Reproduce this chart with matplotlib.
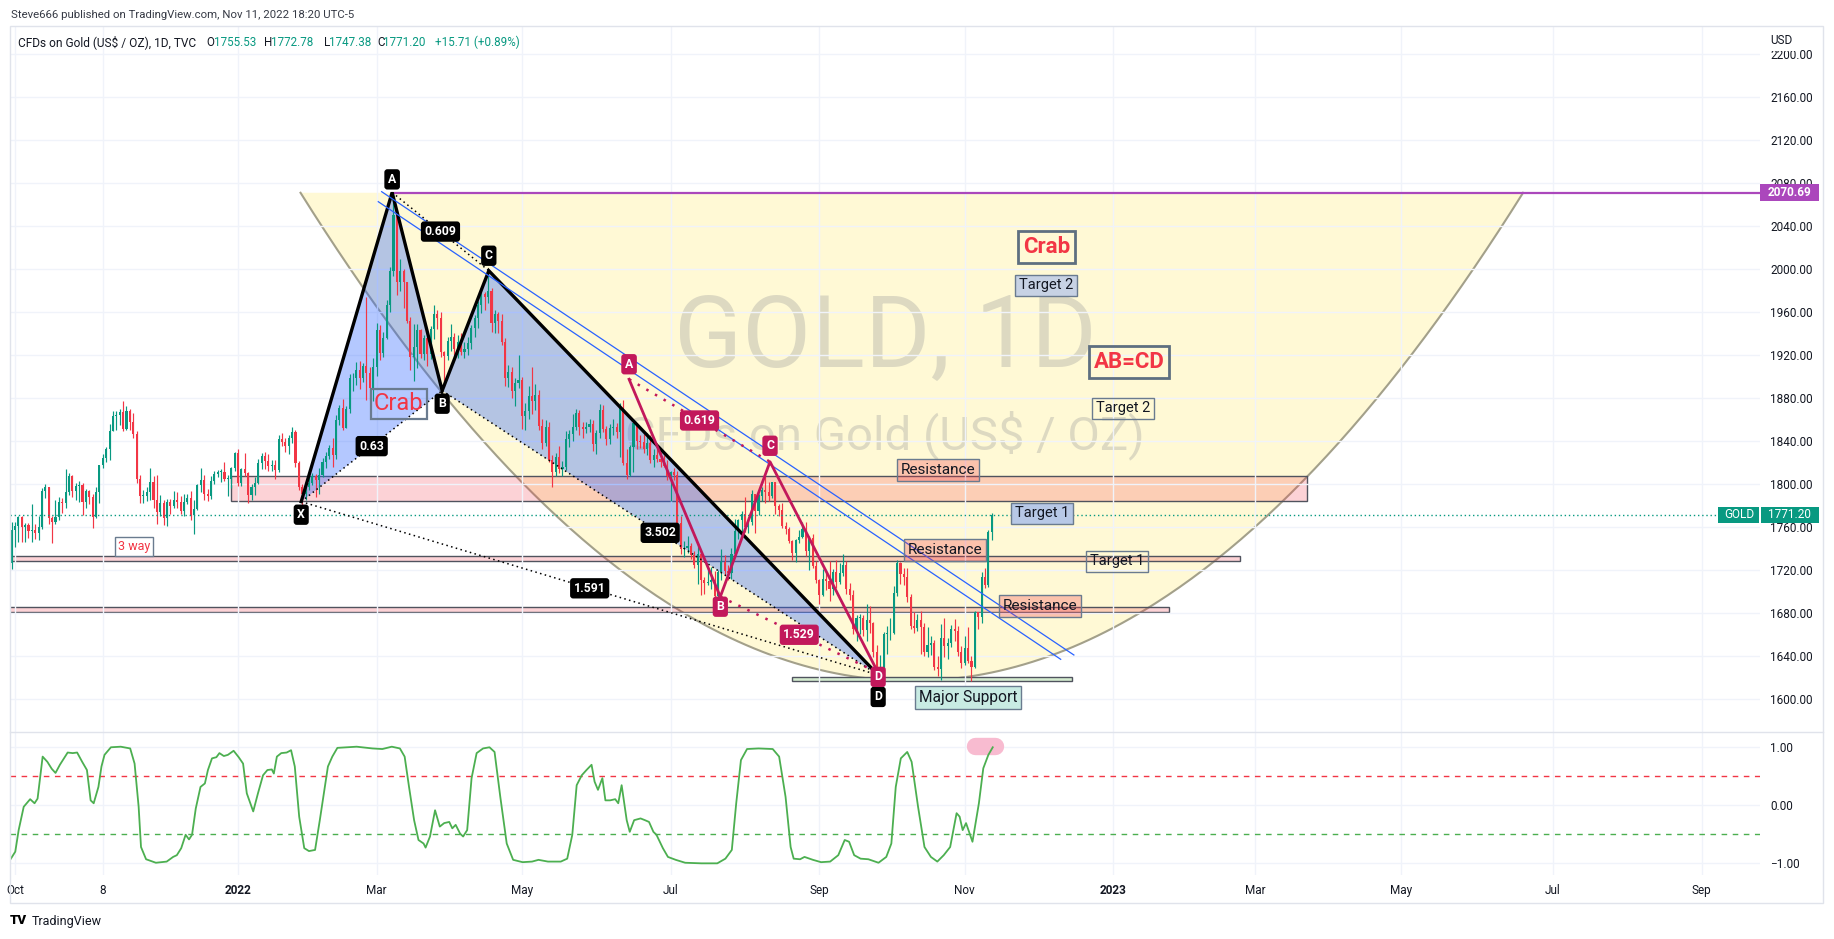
import numpy as np
import matplotlib
matplotlib.use('Agg')
import matplotlib.pyplot as plt
from matplotlib.patches import Rectangle, Polygon
from matplotlib.transforms import blended_transform_factory

plt.rcParams['font.family'] = ['Roboto', 'DejaVu Sans']

W, H, DPI = 1834, 939, 100

# ---- daily candles, TVC:GOLD, 2021-09-30 .. 2022-11-11 (bar 0 = 2022-01-03)
first_bar = -67
first_open = 1726
closes = [
    1757,
    # Oct 2021
    1761, 1769, 1760, 1762, 1756, 1757, 1754, 1760, 1793, 1797, 1768, 1765, 1769, 1783, 1782, 1792, 1807, 1793, 1798, 1799, 1783,
    # Nov 2021
    1793, 1788, 1769, 1792, 1818, 1824, 1832, 1849, 1863, 1864, 1867, 1851, 1868, 1858, 1846, 1805, 1789, 1789, 1792, 1802, 1785, 1774,
    # Dec 2021
    1782, 1768, 1783, 1779, 1785, 1783, 1775, 1783, 1787, 1771, 1777, 1799, 1804, 1791, 1789, 1803, 1809, 1811, 1811, 1805, 1805, 1815, 1829,
    # Jan 2022
    1801, 1814, 1810, 1790, 1797, 1801, 1819, 1826, 1821, 1817, 1818, 1813, 1842, 1839, 1835, 1843, 1848, 1819, 1797, 1791, 1797,
    # Feb
    1801, 1807, 1804, 1808, 1820, 1826, 1833, 1827, 1859, 1871, 1852, 1870, 1898, 1898, 1906, 1898, 1910, 1903, 1889, 1909,
    # Mar
    1943, 1922, 1936, 1966, 1998, 2050, 1988, 1998, 1988, 1951, 1918, 1927, 1943, 1921, 1936, 1921, 1944, 1958, 1954, 1923, 1919, 1933, 1937,
    # Apr
    1925, 1932, 1923, 1925, 1931, 1945, 1954, 1966, 1977, 1974, 1979, 1950, 1958, 1951, 1932, 1898, 1904, 1886, 1894, 1897,
    # May
    1863, 1868, 1882, 1877, 1883, 1854, 1838, 1853, 1822, 1811, 1825, 1814, 1816, 1842, 1846, 1853, 1866, 1853, 1851, 1853, 1856, 1837,
    # Jun
    1847, 1869, 1851, 1842, 1852, 1853, 1848, 1871, 1819, 1808, 1834, 1857, 1840, 1839, 1832, 1838, 1822, 1827, 1823, 1820, 1817, 1807,
    # Jul
    1811, 1808, 1764, 1739, 1740, 1742, 1734, 1725, 1735, 1711, 1708, 1709, 1711, 1696, 1718, 1727, 1719, 1717, 1735, 1756, 1766,
    # Aug
    1772, 1760, 1765, 1791, 1775, 1789, 1794, 1792, 1789, 1802, 1779, 1776, 1761, 1758, 1747, 1736, 1748, 1751, 1758, 1738, 1750, 1724, 1711,
    # Sep
    1697, 1712, 1710, 1702, 1718, 1709, 1717, 1725, 1702, 1697, 1665, 1675, 1675, 1664, 1673, 1671, 1644, 1622, 1629, 1660, 1661, 1661,
    # Oct
    1699, 1726, 1716, 1713, 1695, 1668, 1666, 1673, 1667, 1644, 1650, 1652, 1630, 1628, 1657, 1649, 1652, 1665, 1663, 1644, 1633,
    # Nov
    1647, 1635, 1630, 1681, 1676, 1713, 1706, 1755, 1771.2,
]
highs = [
    1765,
    1765, 1770, 1770, 1764, 1764, 1781, 1763, 1770, 1796, 1800, 1797, 1770, 1785, 1788, 1787, 1814, 1810, 1808, 1801, 1803, 1801,
    1795, 1794, 1791, 1797, 1818, 1828, 1834, 1856, 1868, 1868, 1870, 1877, 1872, 1870, 1866, 1849, 1808, 1794, 1797, 1815, 1807, 1808,
    1790, 1785, 1786, 1786, 1793, 1792, 1789, 1791, 1791, 1793, 1785, 1800, 1815, 1808, 1795, 1807, 1812, 1813, 1814, 1820, 1808, 1816, 1830,
    1832, 1815, 1829, 1811, 1800, 1806, 1823, 1829, 1830, 1828, 1822, 1822, 1845, 1847, 1843, 1845, 1853, 1850, 1821, 1800, 1801,
    1807, 1810, 1809, 1815, 1824, 1830, 1836, 1843, 1864, 1873, 1879, 1872, 1902, 1903, 1913, 1914, 1912, 1974, 1909, 1917,
    1950, 1948, 1941, 1971, 2002, 2070, 2055, 2009, 2000, 1988, 1955, 1949, 1949, 1944, 1938, 1940, 1947, 1966, 1962, 1960, 1924, 1937, 1949,
    1940, 1938, 1940, 1932, 1937, 1948, 1957, 1970, 1981, 1978, 1998, 1982, 1962, 1960, 1958, 1936, 1911, 1909, 1898, 1920,
    1899, 1875, 1891, 1909, 1893, 1887, 1860, 1859, 1858, 1827, 1829, 1835, 1821, 1849, 1850, 1865, 1870, 1869, 1858, 1858, 1860, 1859,
    1850, 1874, 1873, 1854, 1856, 1860, 1857, 1875, 1878, 1832, 1836, 1857, 1857, 1845, 1846, 1847, 1845, 1832, 1835, 1830, 1827, 1822,
    1812, 1815, 1812, 1770, 1747, 1752, 1745, 1738, 1745, 1736, 1713, 1722, 1723, 1719, 1720, 1739, 1734, 1725, 1740, 1767, 1767,
    1775, 1788, 1769, 1794, 1791, 1791, 1797, 1807, 1802, 1802, 1800, 1781, 1782, 1765, 1760, 1748, 1749, 1757, 1765, 1765, 1752, 1753, 1728,
    1712, 1721, 1717, 1728, 1721, 1729, 1726, 1735, 1728, 1708, 1701, 1678, 1679, 1678, 1688, 1686, 1672, 1650, 1641, 1662, 1668, 1675,
    1705, 1729, 1727, 1722, 1722, 1698, 1681, 1679, 1682, 1671, 1667, 1659, 1655, 1640, 1670, 1675, 1657, 1669, 1674, 1668, 1649,
    1659, 1667, 1640, 1682, 1680, 1718, 1722, 1757, 1772.8,
]
lows = [
    1721,
    1741, 1746, 1746, 1746, 1750, 1746, 1749, 1748, 1758, 1787, 1763, 1745, 1763, 1766, 1773, 1778, 1790, 1788, 1785, 1783, 1771,
    1778, 1781, 1759, 1768, 1782, 1815, 1820, 1822, 1849, 1850, 1855, 1849, 1850, 1850, 1843, 1801, 1782, 1782, 1784, 1785, 1778, 1763,
    1770, 1762, 1761, 1772, 1778, 1778, 1772, 1770, 1781, 1766, 1753, 1776, 1792, 1785, 1784, 1786, 1800, 1806, 1802, 1803, 1789, 1796, 1812,
    1798, 1798, 1807, 1782, 1785, 1790, 1800, 1814, 1814, 1812, 1812, 1805, 1811, 1835, 1830, 1828, 1838, 1816, 1794, 1780, 1785,
    1794, 1799, 1788, 1791, 1806, 1815, 1823, 1816, 1823, 1855, 1850, 1852, 1866, 1886, 1892, 1888, 1895, 1878, 1878, 1877,
    1900, 1915, 1918, 1935, 1960, 1993, 1976, 1979, 1964, 1950, 1906, 1896, 1908, 1917, 1915, 1910, 1916, 1935, 1944, 1918, 1890, 1915, 1924,
    1915, 1917, 1920, 1917, 1920, 1925, 1937, 1945, 1959, 1962, 1968, 1941, 1940, 1940, 1929, 1891, 1890, 1880, 1872, 1889,
    1851, 1850, 1860, 1865, 1869, 1850, 1832, 1835, 1820, 1797, 1807, 1810, 1807, 1813, 1834, 1840, 1850, 1845, 1843, 1847, 1848, 1831,
    1828, 1843, 1848, 1836, 1837, 1845, 1843, 1825, 1818, 1805, 1807, 1811, 1832, 1833, 1829, 1827, 1819, 1816, 1820, 1816, 1816, 1804,
    1784, 1804, 1763, 1735, 1732, 1736, 1730, 1722, 1707, 1697, 1698, 1706, 1702, 1692, 1681, 1711, 1715, 1711, 1712, 1733, 1749,
    1755, 1755, 1754, 1762, 1754, 1771, 1784, 1782, 1784, 1787, 1772, 1770, 1759, 1753, 1745, 1729, 1727, 1745, 1750, 1733, 1720, 1722, 1708,
    1688, 1696, 1701, 1691, 1697, 1703, 1707, 1714, 1698, 1692, 1660, 1654, 1660, 1659, 1654, 1661, 1639, 1621, 1620, 1615, 1642, 1655,
    1660, 1696, 1707, 1706, 1690, 1665, 1661, 1663, 1642, 1640, 1639, 1641, 1627, 1621, 1618, 1639, 1637, 1648, 1654, 1640, 1629,
    1632, 1633, 1617, 1629, 1665, 1671, 1703, 1704, 1747.4,
]

# oscillator (lower pane): bar index, value
osc_x = [-67.2, -65.9, -64.9, -63.4, -61.5, -60.2, -59.3, -57.8, -56.4, -55.1,
         -54.0, -52.7, -50.4, -48.9, -47.6, -46.1, -44.7, -43.6, -42.7, -41.3,
         -40.4, -39.5, -37.6, -34.7, -31.9, -30.6, -29.4, -28.7, -27.2, -24.3,
         -21.1, -19.2, -18.1, -16.8, -15.5, -14.5, -13.6, -12.5, -11.1, -9.8,
         -8.9, -7.7, -6.4, -5.5, -4.2, -3.0, -1.3, 0.2, 1.5, 2.6,
         4.5, 5.9, 7.4, 8.7, 10.0, 10.6, 11.5, 12.8, 14.4, 15.7,
         16.8, 18.1, 19.6, 21.0, 22.8, 24.2, 25.7, 26.6, 27.9, 29.4,
         35.1, 39.8, 42.7, 45.5, 47.9, 49.3, 50.6, 52.1, 53.4, 54.9,
         55.5, 56.8, 58.3, 59.7, 61.0, 62.5, 63.4, 64.4, 65.7, 66.6,
         67.8, 69.1, 70.6, 72.5, 74.4, 75.9, 77.6, 79.5, 81.4, 84.2,
         87.0, 88.9, 91.7, 95.5, 97.4, 98.9, 100.2, 101.7, 103.1, 104.6,
         105.5, 106.5, 107.8, 108.7, 110.1, 111.6, 112.5, 113.5, 115.0, 115.9,
         117.2, 119.1, 120.4, 121.6, 122.9, 123.8, 125.7, 127.2, 129.5, 132.3,
         137.1, 141.8, 144.2, 146.1, 147.4, 148.8, 150.6, 154.0, 158.2, 160.1,
         162.0, 163.5, 164.4, 166.3, 167.6, 170.1, 172.5, 175.2, 177.6, 179.5,
         180.8, 182.3, 184.2, 186.5, 189.5, 191.8, 193.3, 194.6, 196.1, 198.0,
         199.3, 201.2, 203.1, 205.0, 206.9, 208.8, 210.7, 212.6, 213.5, 214.4,
         215.4, 217.3, 219.2, 220.5, 222.0, 223.3]
osc_y = [-0.92, -0.80, -0.43, -0.03, 0.10, 0.03, 0.11, 0.83, 0.74, 0.62,
         0.55, 0.69, 0.90, 0.89, 0.90, 0.74, 0.60, 0.08, 0.03, 0.31,
         0.66, 0.86, 0.99, 1.0, 0.97, 0.71, -0.03, -0.72, -0.93, -0.99,
         -0.97, -0.89, -0.86, -0.74, -0.51, -0.59, -0.51, -0.06, 0.31, 0.37,
         0.60, 0.80, 0.82, 0.89, 0.84, 0.86, 0.93, 0.82, 0.71, 0.20,
         -0.11, 0.20, 0.51, 0.60, 0.61, 0.54, 0.83, 0.89, 0.90, 0.94,
         0.66, -0.20, -0.74, -0.79, -0.77, -0.26, 0.31, 0.66, 0.83, 0.98,
         1.0, 0.97, 0.96, 1.0, 0.97, 0.83, 0.31, -0.26, -0.60, -0.66,
         -0.73, -0.54, -0.09, -0.37, -0.31, -0.29, -0.40, -0.34, -0.49, -0.54,
         -0.43, 0.46, 0.89, 0.97, 0.99, 0.91, 0.14, -0.66, -0.94, -0.98,
         -0.97, -0.94, -0.97, -0.97, -0.92, -0.51, 0.34, 0.51, 0.60, 0.69,
         0.40, 0.26, 0.46, 0.08, 0.08, 0.10, 0.03, 0.34, -0.26, -0.46,
         -0.26, -0.23, -0.26, -0.29, -0.46, -0.51, -0.74, -0.89, -0.94, -0.99,
         -1.0, -1.0, -0.92, -0.77, 0.03, 0.77, 0.96, 0.97, 0.96, 0.83,
         0.14, -0.72, -0.92, -0.93, -0.89, -0.94, -0.98, -0.97, -0.86, -0.60,
         -0.63, -0.86, -0.92, -0.93, -0.99, -0.89, -0.66, 0.31, 0.80, 0.91,
         0.74, -0.03, -0.72, -0.89, -0.97, -0.86, -0.72, -0.14, -0.20, -0.43,
         -0.31, -0.63, 0.03, 0.63, 0.86, 0.99]

# time axis
tick_bars = [-66, -40, 0, 41, 84, 128, 172, 215, 259, 301, 344, 389, 433]
tick_labels = ['Oct', '8', '2022', 'Mar', 'May', 'Jul', 'Sep', 'Nov', '2023', 'Mar', 'May', 'Jul', 'Sep']
price_ticks = list(range(1600, 2201, 40))

# drawings (bar index, price)
crab_pts = {'X': (18.7, 1783.5), 'A': (45.6, 2071.0), 'B': (60.4, 1886.7), 'C': (74.2, 1998.2), 'D': (189.4, 1622.3)}
abcd_pts = {'A': (115.7, 1897.3), 'B': (142.7, 1695.1), 'C': (157.4, 1820.6), 'D': (189.4, 1624.3)}
channel_upper = [(42.5, 2071.7), (247.3, 1640.9)]
channel_lower = [(41.5, 2062.4), (243.4, 1636.9)]
arc_ctrl = [(18.5, 2070.69), (199.3, 1163.0), (380.2, 2070.69)]
ath_level = 2070.69
last_price = 1771.20
bands = [(-2.2, 316.4, 1783.8, 1807.1), (-70, 296.5, 1728.3, 1733.2), (-70, 275.5, 1681.1, 1685.8)]
support_band = (163.8, 246.7, 1616.5, 1620.2)

UP, DOWN = '#089981', '#F23645'
CRIMSON = '#C2185B'
GRID = '#F0F3FA'
TXT = '#131722'


def px_box(x0, y0, x1, y1):
    return [x0 / W, 1 - y1 / H, (x1 - x0) / W, (y1 - y0) / H]


fig = plt.figure(figsize=(W / DPI, H / DPI), dpi=DPI)
ax = fig.add_axes(px_box(10, 26.5, 1760, 732))
ax2 = fig.add_axes(px_box(10, 732, 1760, 875))

for a in (ax, ax2):
    a.set_xlim(-67.46, 450.3)
    for s in a.spines.values():
        s.set_visible(False)
    a.set_xticks(tick_bars)
    a.grid(True, color=GRID, lw=1)
    a.set_axisbelow(False)
    a.yaxis.tick_right()
    a.tick_params(axis='both', length=0, labelsize=8.5, labelcolor=TXT)
    a.tick_params(axis='y', pad=7.5)

ax.set_ylim(1569.3, 2225.3)
ax.set_yticks(price_ticks)
ax.set_yticklabels(['%.2f' % v for v in price_ticks])
ax.tick_params(axis='x', labelbottom=False)

ax2.set_ylim(-1.2, 1.252)
ax2.set_yticks([-1, 0, 1])
ax2.set_yticklabels(['\u22121.00', '0.00', '1.00'])
ax2.set_xticklabels(tick_labels)
ax2.tick_params(axis='x', pad=6.5)
for t in ax2.get_xticklabels():
    if t.get_text() in ('2022', '2023'):
        t.set_fontweight('bold')

# ---- yellow cup (arc drawing)
t = np.linspace(0, 1, 300)
(p0x, p0y), (p1x, p1y), (p2x, p2y) = arc_ctrl
bx = (1 - t) ** 2 * p0x + 2 * (1 - t) * t * p1x + t ** 2 * p2x
by = (1 - t) ** 2 * p0y + 2 * (1 - t) * t * p1y + t ** 2 * p2y
ax.fill(bx, by, color='#FFF9D5', zorder=1, lw=0)
ax.plot(bx, by, color='#A3A08A', lw=1.5, zorder=2)
ax.plot([crab_pts['A'][0], 460], [ath_level, ath_level], color='#AB47BC', lw=1.6, zorder=5, clip_on=True)

# watermark
wm = (0.47, 0.48, 0.53, 0.25)
ax.text(0.5, 0.557, 'GOLD, 1D', transform=ax.transAxes, ha='center', va='center',
        fontsize=72, color=wm, zorder=1.5)
ax.text(0.5, 0.421, 'CFDs on Gold (US$ / OZ)', transform=ax.transAxes, ha='center', va='center',
        fontsize=34, color=wm, zorder=1.5)

# ---- horizontal zones
red_a = (242 / 255, 54 / 255, 69 / 255, 0.22)
for x0, x1, y0, y1 in bands:
    ax.add_patch(Rectangle((x0, y0), x1 - x0, y1 - y0, fc=red_a, ec='#50535E', lw=1, zorder=2))
x0, x1, y0, y1 = support_band
ax.add_patch(Rectangle((x0, y0), x1 - x0, y1 - y0, fc='#D5ECD0', ec='#50535E', lw=1, zorder=2))

# ---- crab pattern fills
X, A, B, C, D = [crab_pts[k] for k in 'XABCD']
ax.add_patch(Polygon([X, A, B], closed=True, fc='#2962FF', alpha=0.35, lw=0, zorder=3))
ax.add_patch(Polygon([B, C, D], closed=True, fc='#2962FF', alpha=0.35, lw=0, zorder=3))

# ---- candles
n = len(closes)
x = np.arange(n) + first_bar
c = np.array(closes, dtype=float)
o = np.concatenate([[first_open], c[:-1]])
hi = np.maximum(np.array(highs, dtype=float), np.maximum(o, c))
lo = np.minimum(np.array(lows, dtype=float), np.minimum(o, c))
col = np.where(c >= o, UP, DOWN)
ax.vlines(x, lo, hi, colors=col, lw=0.85, zorder=4)
body = np.where(np.abs(c - o) < 0.8, 0.8, np.abs(c - o))
ax.bar(x, body, bottom=np.minimum(o, c), width=0.62, color=col, lw=0, zorder=4)

ax.axhline(last_price, color=UP, ls=(0, (1, 2)), lw=1, zorder=4.5)

# ---- crab pattern lines
ax.plot(*zip(X, A, B, C, D), color='black', lw=2.4, zorder=5, solid_joinstyle='miter')
dot = (0, (1, 2.2))
for p, q in ((X, B), (A, C), (X, D), (B, D)):
    ax.plot(*zip(p, q), color='black', lw=1.1, ls=dot, zorder=5)

# channel
for seg in (channel_upper, channel_lower):
    ax.plot(*zip(*seg), color='#2962FF', lw=0.9, zorder=5)

# ---- AB=CD pattern
a2, b2, c2, d2 = [abcd_pts[k] for k in 'ABCD']
ax.plot(*zip(a2, b2, c2, d2), color=CRIMSON, lw=2, zorder=6)
for p, q in ((a2, c2), (b2, d2)):
    ax.plot(*zip(p, q), color=CRIMSON, lw=1.8, ls=(0, (1, 3)), zorder=6)


def tag(pt, s, fc, dy=0, fs=8.8):
    ax.annotate(s, pt, xytext=(0, dy), textcoords='offset points', ha='center', va='center',
                color='white', fontsize=fs, fontweight='bold', zorder=9,
                bbox=dict(boxstyle='round,pad=0.3,rounding_size=0.25', fc=fc, ec='none'))


def mid(p, q):
    return ((p[0] + q[0]) / 2, (p[1] + q[1]) / 2)


tag(X, 'X', 'black', -9.4)
tag(A, 'A', 'black', 9.4)
tag(B, 'B', 'black', -9.4)
tag(C, 'C', 'black', 10.8)
tag(D, 'D', 'black', -15.8)
tag(mid(X, B), '0.63', 'black')
tag(mid(A, C), '0.609', 'black')
tag(mid(X, D), '1.591', 'black')
tag(mid(B, D), '3.502', 'black')

tag(a2, 'A', CRIMSON, 10.8)
tag(b2, 'B', CRIMSON, -7.2)
tag(c2, 'C', CRIMSON, 11.5)
tag(d2, 'D', CRIMSON, -2.9)
tag(mid(a2, c2), '0.619', CRIMSON)
tag(mid(b2, d2), '1.529', CRIMSON)


# ---- text notes
def note(xy, s, fc='none', fs=10, color=TXT, weight='normal', ec='#6A7B8F', lw=1, pad=0.25):
    ax.text(xy[0], xy[1], s, ha='center', va='center', fontsize=fs, color=color,
            fontweight=weight, zorder=8,
            bbox=dict(boxstyle='square,pad=%s' % pad, fc=fc, ec=ec, lw=lw))


peach = (242 / 255, 54 / 255, 69 / 255, 0.28)
note((-30.8, 1741.6), '3 way', fc='white', fs=9, color='#F23645')
note((207.1, 1812.7), 'Resistance', fc=peach, fs=11)
note((209.1, 1738.5), 'Resistance', fc=peach, fs=11)
note((237.2, 1686.3), 'Resistance', fc=peach, fs=11)
note((216.0, 1601.4), 'Major Support', fc='#C8EBE3', fs=11.2)
note((237.8, 1772.7), 'Target 1', fc='#B7C8E6', fs=10.5)
note((260.0, 1728.0), 'Target 1', fs=10.5)
note((239.1, 1984.5), 'Target 2', fc='#C7D2E4', fs=10.5)
note((261.8, 1870.3), 'Target 2', fs=10.5)
note((47.6, 1874.6), 'Crab', fs=17, color='#F23645', ec='#6A7B8F', lw=1.6, pad=0.15)
note((239.3, 2020.3), 'Crab', fs=16, color='#F23645', weight='bold', ec='#5E6F80', lw=2, pad=0.22)
note((263.6, 1913.3), 'AB=CD', fs=16, color='#F23645', weight='bold', ec='#5E6F80', lw=2, pad=0.22)

# ---- price scale tags
tr = blended_transform_factory(ax.transAxes, ax.transData)
ax.add_patch(Rectangle((1.0, ath_level - 7.7), 0.0337, 15.4, transform=tr, fc='#AB47BC', ec='none',
                       clip_on=False, zorder=10))
ax.text(1.0169, ath_level, '%.2f' % ath_level, transform=tr, ha='center', va='center', color='white',
        fontsize=8.5, fontweight='bold', clip_on=False, zorder=11)
ax.add_patch(Rectangle((0.9762, last_price - 7.7), 0.0234, 15.4, transform=tr, fc=UP, ec='none',
                       clip_on=False, zorder=10))
ax.add_patch(Rectangle((1.0006, last_price - 7.7), 0.0331, 15.4, transform=tr, fc=UP, ec='none',
                       clip_on=False, zorder=10))
ax.text(0.9879, last_price, 'GOLD', transform=tr, ha='center', va='center', color='white',
        fontsize=8.5, clip_on=False, zorder=11)
ax.text(1.0171, last_price, '%.2f' % last_price, transform=tr, ha='center', va='center', color='white',
        fontsize=8.5, clip_on=False, zorder=11)

# ---- oscillator pane
ax2.plot(osc_x, osc_y, color='#4CAF50', lw=1.3, zorder=5)
ax2.axhline(0.5, color='#F23645', ls=(0, (4, 4)), lw=1, zorder=4)
ax2.axhline(-0.5, color='#4CAF50', ls=(0, (4, 4)), lw=1, zorder=4)
ax2.plot([218, 224], [1.016, 1.016], color='#F8BBD0', lw=12.5, solid_capstyle='round', zorder=3)

# ---- frame, header, footer
fig.add_artist(Rectangle((10 / W, 1 - 903 / H), 1813 / W, 877 / H, transform=fig.transFigure,
                         fill=False, ec='#E0E3EB', lw=1))
fig.add_artist(plt.Line2D([10 / W, 1823 / W], [1 - 732 / H] * 2, transform=fig.transFigure,
                          color='#E0E3EB', lw=1))
fig.text(1770 / W, 1 - 40.7 / H, 'USD', fontsize=8.5, color=TXT, va='center',
         bbox=dict(boxstyle='square,pad=0.35', fc='white', ec='none'))

fig.text(10.7 / W, 1 - 15 / H, 'Steve666 published on TradingView.com, Nov 11, 2022 18:20 UTC-5',
         fontsize=8.2, color='#363A45', va='center')
hy = 1 - 42.3 / H
fig.text(18 / W, hy, 'CFDs on Gold (US$ / OZ), 1D, TVC', fontsize=8.6, color=TXT, va='center')
for px, s, cl in ((206.8, 'O', TXT), (213.7, '1755.53', UP), (264.3, 'H', TXT), (271.2, '1772.78', UP),
                  (323.6, 'L', TXT), (329.4, '1747.38', UP), (377.3, 'C', TXT), (383.0, '1771.20', UP),
                  (434.7, '+15.71 (+0.89%)', UP)):
    fig.text(px / W, hy, s, fontsize=8.4, color=cl, va='center')

fig.text(10 / W, 1 - 921 / H, 'TV', fontsize=9.5, fontweight='black', color='black', va='center')
fig.text(32 / W, 1 - 921 / H, 'TradingView', fontsize=9, color='#131722', va='center')

fig.savefig('out.png', dpi=DPI, facecolor='white')
